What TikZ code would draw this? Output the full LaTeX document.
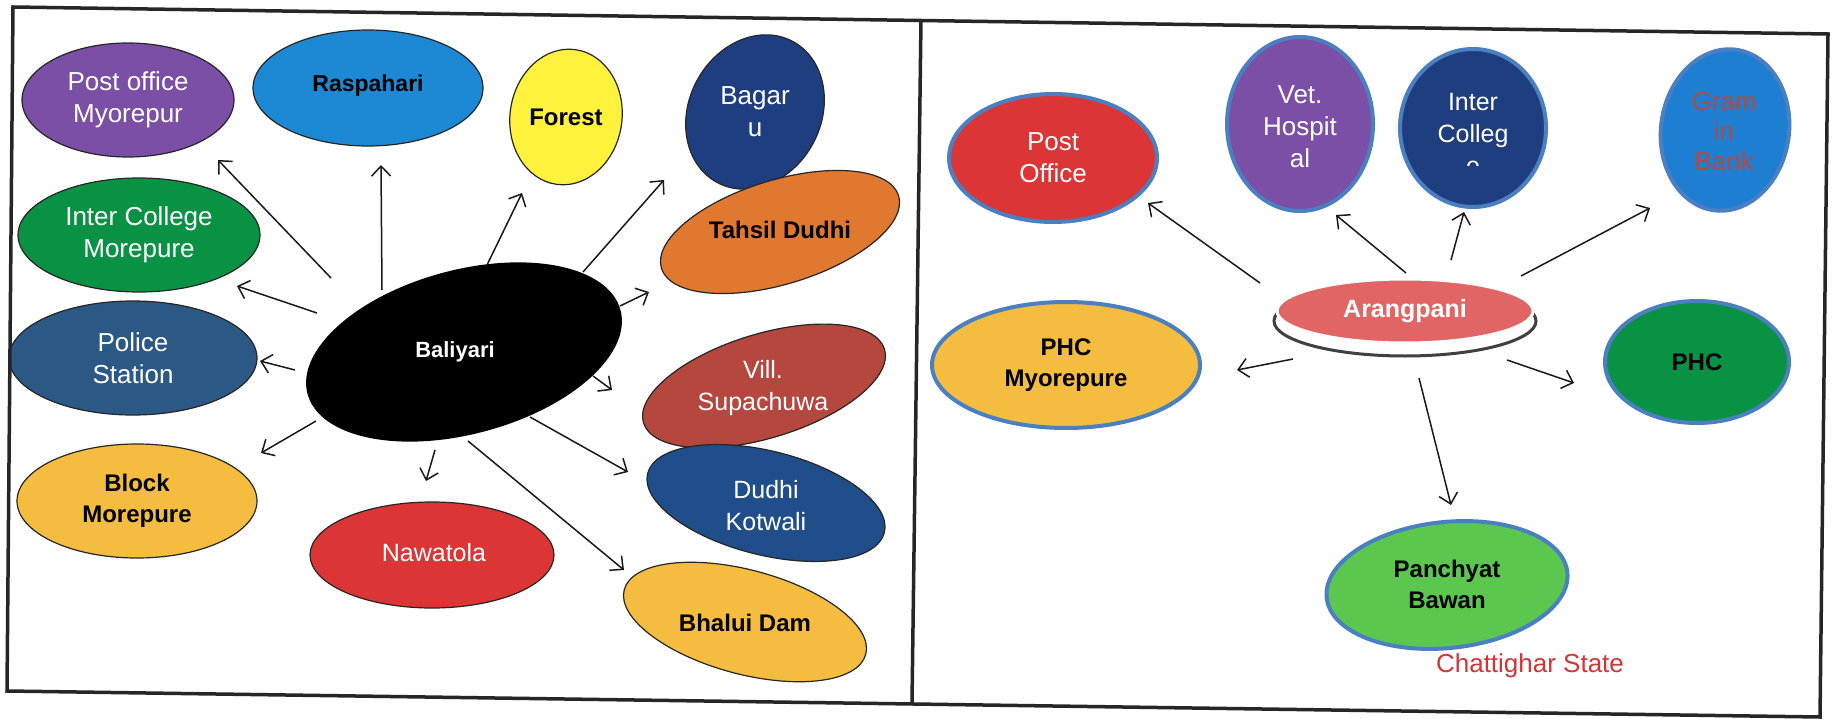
\documentclass[tikz,border=0pt]{standalone}
\usepackage{fontspec}
\setmainfont{Liberation Sans}
\usetikzlibrary{shapes.geometric,arrows.meta,calc}

\definecolor{cPurple}{HTML}{7B4FA5}
\definecolor{cSky}{HTML}{1D89D4}
\definecolor{cYellow}{HTML}{FEF23C}
\definecolor{cNavy}{HTML}{1F3E80}
\definecolor{cOrange}{HTML}{E0782F}
\definecolor{cGreen}{HTML}{0A9244}
\definecolor{cSteel}{HTML}{2C5885}
\definecolor{cGold}{HTML}{F5BD3F}
\definecolor{cRed}{HTML}{DC3535}
\definecolor{cBrick}{HTML}{B6473F}
\definecolor{cBlue}{HTML}{1F4E8B}
\definecolor{cSalmon}{HTML}{E26565}
\definecolor{cLime}{HTML}{5CC74F}
\definecolor{cRing}{HTML}{4A7FC2}
\definecolor{cGram}{HTML}{1E7ED2}
\definecolor{cGramTxt}{HTML}{B14A42}
\definecolor{cStateTxt}{HTML}{D23538}

\tikzset{
  blobL/.style={ellipse, draw=black!85, line width=1.2pt, inner sep=0pt, outer sep=0pt},
  blobR/.style={ellipse, draw=cRing, line width=4pt, inner sep=0pt, outer sep=0pt},
  txt/.style={align=center, inner sep=0pt, text=white, font=\fontsize{26}{32}\selectfont},
  txtb/.style={align=center, inner sep=0pt, text=black, font=\fontsize{24}{31}\selectfont\bfseries},
  arr/.style={draw=black!90, line width=1.5pt, -{Straight Barb[length=10pt,width=19pt]}},
  frameline/.style={draw=black!85, line width=3.5pt, line join=miter}
}

\begin{document}
\begin{tikzpicture}[x=1pt,y=-1pt]
\useasboundingbox (0,0) rectangle (1833,719);
\fill[white] (0,0) rectangle (1833,719);

% ---------------- Baliyari cluster ----------------
\node[blobL, fill=cPurple, minimum width=212pt, minimum height=114pt] (post1) at (128,100) {};
\node[blobL, fill=cSky, minimum width=230pt, minimum height=116pt] (rasp) at (368,88) {};
\node[blobL, fill=cYellow, minimum width=112pt, minimum height=136pt, rotate=-8] (forest) at (566,117) {};
\node[blobL, fill=cNavy, minimum width=160pt, minimum height=132pt, rotate=62] (bagaru) at (755,112) {};
\node[blobL, fill=cOrange, minimum width=248pt, minimum height=104pt, rotate=17] (tahsil) at (780,232) {};
\node[blobL, fill=cGreen, minimum width=242pt, minimum height=114pt] (icoll) at (139,235) {};
\node[blobL, fill=cSteel, minimum width=248pt, minimum height=114pt] (police) at (133,358) {};
\node[blobL, fill=cGold, minimum width=240pt, minimum height=114pt] (block) at (137,501) {};
\node[blobL, fill=cRed, minimum width=244pt, minimum height=106pt] (nawa) at (432,555) {};
\node[blobL, fill=cBrick, minimum width=252pt, minimum height=104pt, rotate=17] (supa) at (764,386) {};
\node[blobL, fill=cBlue, minimum width=244pt, minimum height=104pt, rotate=-14] (dudhi) at (766,503) {};
\node[blobL, fill=cGold, minimum width=250pt, minimum height=104pt, rotate=-15] (bhalui) at (745,622) {};
\node[ellipse, fill=black, inner sep=0pt, minimum width=324pt, minimum height=164pt, rotate=15] (bal) at (464,352) {};

\node[txt] (post1t) at (post1) {Post office\\Myorepur};
\node[txtb, font=\fontsize{23}{30}\selectfont\bfseries] (raspt) at (368,86) {Raspahari};
\node[txtb] (forestt) at (forest) {Forest};
\node[txt] (bagarut) at (bagaru) {Bagar\\u};
\node[txtb] (tahsilt) at (780,230) {Tahsil Dudhi};
\node[txt] (icollt) at (icoll) {Inter College\\Morepure};
\node[txt] (policet) at (police) {Police\\Station};
\node[txtb] (blockt) at (block) {Block\\Morepure};
\node[txt, font=\fontsize{25}{32}\selectfont] (nawat) at (434,553) {Nawatola};
\node[txt, font=\fontsize{25}{32}\selectfont] (supat) at (763,388) {Vill.\\Supachuwa};
\node[txt, font=\fontsize{25}{32}\selectfont] (dudhit) at (766,506) {Dudhi\\Kotwali};
\node[txtb] (bhaluit) at (745,623) {Bhalui Dam};
\node[txtb, text=white, font=\fontsize{22}{26}\selectfont\bfseries] (balt) at (455,352) {Baliyari};

\draw[arr] ($(bal)+(-133,-74)$) -- ($(post1)+(90,60)$);
\draw[arr] ($(bal)+(-82,-62)$) -- ($(rasp)+(13,77)$);
\draw[arr] ($(bal)+(23,-87)$) -- ($(forest)+(-44,76)$);
\draw[arr] ($(bal)+(119,-80)$) -- ($(bagaru)+(-91,68)$);
\draw[arr] ($(bal)+(156,-46)$) -- ($(tahsil)+(-131,60)$);
\draw[arr] ($(bal)+(-147,-39)$) -- ($(icoll)+(98,51)$);
\draw[arr] ($(bal)+(-169,18)$) -- ($(police)+(127,3)$);
\draw[arr] ($(bal)+(-148,69)$) -- ($(block)+(124,-48)$);
\draw[arr] ($(bal)+(-29,98)$) -- ($(nawa)+(-6,-74)$);
\draw[arr] ($(bal)+(4,89)$) -- ($(bhalui)+(-121,-52)$);
\draw[arr] ($(bal)+(66,65)$) -- ($(dudhi)+(-138,-31)$);
\draw[arr] ($(bal)+(129,24)$) -- ($(supa)+(-152,4)$);

% ---------------- Arangpani cluster ----------------
\node[blobR, fill=cRed, minimum width=208pt, minimum height=128pt] (post2) at (1053,158) {};
\node[blobR, fill=cPurple, minimum width=146pt, minimum height=174pt] (vet) at (1300,124) {};
\node[blobR, fill=cNavy, minimum width=146pt, minimum height=158pt] (icoll2) at (1473,128) {};
\node[blobR, fill=cGram, minimum width=128pt, minimum height=162pt, rotate=-8] (gram) at (1725,130) {};
\node[blobR, fill=cGold, minimum width=268pt, minimum height=126pt] (phcm) at (1066,365) {};
\node[blobR, fill=cGreen, minimum width=184pt, minimum height=122pt] (phc) at (1697,362) {};
\node[blobR, fill=cLime, minimum width=242pt, minimum height=126pt, rotate=6] (panch) at (1447,585) {};
\node[ellipse, draw=black!75, line width=3pt, fill=white, inner sep=0pt, minimum width=262pt, minimum height=70pt] (plate) at (1405,321) {};
\node[ellipse, draw=white, line width=3pt, fill=cSalmon, inner sep=0pt, minimum width=256pt, minimum height=64pt] (arang) at (1405,311) {};

\node[txt] (post2t) at (post2) {Post\\Office};
\node[txt] (vett) at (1300,127) {Vet.\\Hospit\\al};
\begin{scope}
  \clip (1400,40) rectangle (1550,166);
  \node[txt, font=\fontsize{25}{32}\selectfont] (icoll2t) at (1473,134) {Inter\\Colleg\\e};
\end{scope}
\node[txt, text=cGramTxt, font=\fontsize{26}{30}\selectfont] (gramt) at (1724,132) {Gram\\in\\Bank};
\node[txtb] (phcmt) at (1066,365) {PHC\\Myorepure};
\node[txtb] (phct) at (1697,362) {PHC};
\node[txtb] (pancht) at (1447,584) {Panchyat\\Bawan};
\node[txtb, text=white, font=\fontsize{25}{30}\selectfont\bfseries] (arangt) at (arang) {Arangpani};
\node[txt, text=cStateTxt, font=\fontsize{26}{30}\selectfont] (state) at (1530,666) {Chattighar State};

\draw[arr] ($(arang)+(-145,-28)$) -- ($(post2)+(95,45)$);
\draw[arr] ($(arang)+(1,-38)$) -- ($(vet)+(36,91)$);
\draw[arr] ($(arang)+(46,-51)$) -- ($(icoll2)+(-9,84)$);
\draw[arr] ($(arang)+(116,-35)$) -- ($(gram)+(-75,78)$);
\draw[arr] ($(arang)+(-112,48)$) -- ($(phcm)+(171,5)$);
\draw[arr] ($(arang)+(102,49)$) -- ($(phc)+(-123,21)$);
\draw[arr] ($(arang)+(14,67)$) -- ($(panch)+(4,-80)$);

% ---------------- panel frames ----------------
\draw[frameline] (13,7) -- (1828,34) -- (1820,717) -- (7,691) -- cycle;
\draw[frameline] (921,20) -- (912,703);
\end{tikzpicture}
\end{document}
